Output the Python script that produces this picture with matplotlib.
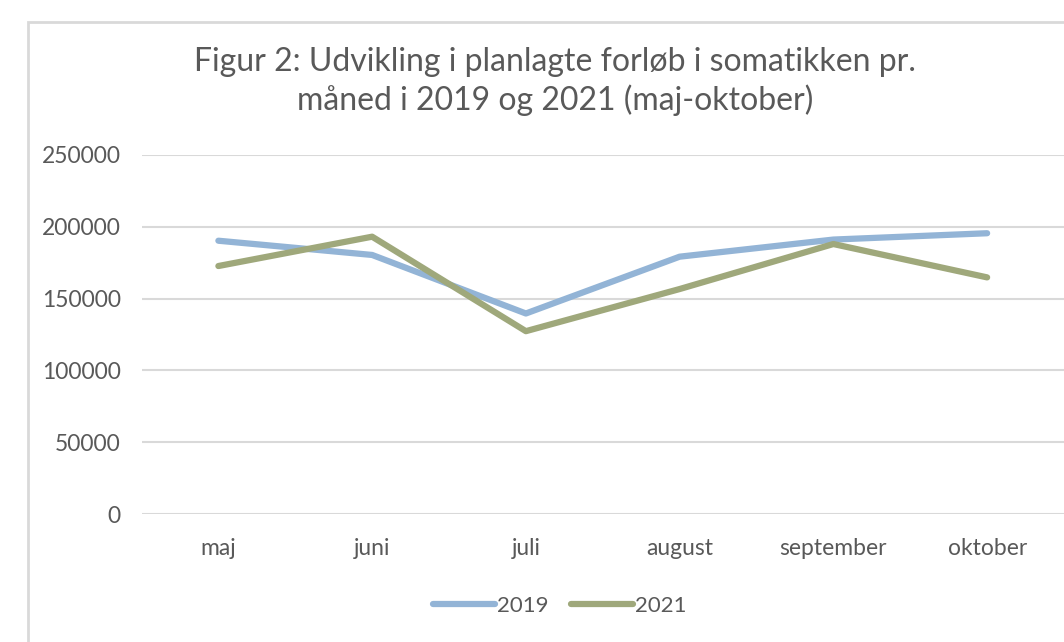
import matplotlib.pyplot as plt
from matplotlib.patches import Rectangle

months = ['maj', 'juni', 'juli', 'august', 'september', 'oktober']
values_2019 = [190200, 180300, 139600, 179100, 191000, 195400]
values_2021 = [172600, 193000, 127300, 156600, 187900, 164700]
yticks = [0, 50000, 100000, 150000, 200000, 250000]

plt.rcParams['font.family'] = ['Lato', 'DejaVu Sans']

fig = plt.figure(figsize=(10.64, 6.42), dpi=100)
ax = fig.add_axes([0.133, 0.199, 0.867, 0.560])

# chart border like the spreadsheet frame
fig.patches.append(Rectangle((28 / 1064, -0.1), 1.1, 1 - 22 / 642 + 0.1,
                             transform=fig.transFigure, fill=False,
                             edgecolor='#D9D9D9', linewidth=2))

x = range(len(months))
ax.plot(x, values_2019, color='#93B4D6', linewidth=4.5, solid_capstyle='round', label='2019')
ax.plot(x, values_2021, color='#9FA87B', linewidth=4.5, solid_capstyle='round', label='2021')

ax.set_xlim(-0.5, len(months) - 0.5)
ax.set_ylim(0, 250000)
ax.set_yticks(yticks)
ax.set_yticklabels([str(v) for v in yticks])
ax.set_xticks(list(x))
ax.set_xticklabels(months)
ax.grid(axis='y', color='#D9D9D9', linewidth=1.5)
ax.set_axisbelow(True)
for s in ax.spines.values():
    s.set_visible(False)
ax.tick_params(length=0, labelsize=16.5, colors='#595959', pad=17)
ax.tick_params(axis='y', pad=15)

fig.text(0.522, 0.903, 'Figur 2: Udvikling i planlagte forløb i somatikken pr.',
         ha='center', va='center', fontsize=23, color='#595959')
fig.text(0.522, 0.844, 'måned i 2019 og 2021 (maj-oktober)',
         ha='center', va='center', fontsize=23, color='#595959')

fig.legend(loc='center', bbox_to_anchor=(0.526, 0.056), ncol=2, frameon=False,
           fontsize=16, labelcolor='#595959', handlelength=2.8, handletextpad=0.1,
           columnspacing=1.0)

fig.savefig('out.png', dpi=100)
